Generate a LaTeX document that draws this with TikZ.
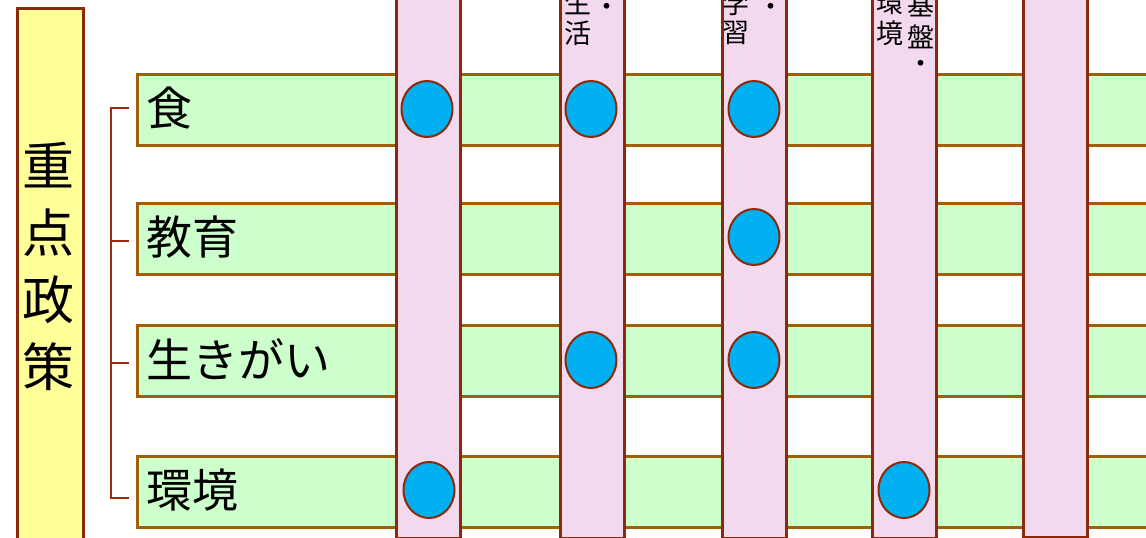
\documentclass[tikz,border=0pt]{standalone}
\usepackage{fontspec}
\setmainfont{Noto Sans CJK JP}
\usetikzlibrary{shapes.geometric}
\definecolor{barfill}{HTML}{CCFFCC}
\definecolor{barline}{HTML}{A0600A}
\definecolor{colfill}{HTML}{F2D9EE}
\definecolor{colline}{HTML}{8B2A0A}
\definecolor{polfill}{HTML}{FFFF99}
\definecolor{dotfill}{HTML}{00B0F0}
\definecolor{brk}{HTML}{A02A10}
\tikzset{
  polbox/.style={draw=colline,fill=polfill,line width=2.5pt,inner sep=0pt,anchor=north west,minimum width=66pt,minimum height=560pt},
  barbox/.style={draw=barline,fill=barfill,line width=3pt,inner sep=0pt,anchor=north west,minimum width=1040pt,minimum height=71pt},
  colbox/.style={draw=colline,fill=colfill,line width=2.5pt,inner sep=0pt,anchor=north west,minimum width=64pt,minimum height=567pt},
  dot/.style={ellipse,draw=colline,fill=dotfill,line width=2pt,inner sep=0pt,minimum width=51pt,minimum height=56pt},
  rowlabel/.style={inner sep=0pt,anchor=west,font=\fontsize{46}{46}\selectfont},
  coltext/.style={inner sep=0pt,font=\fontsize{27}{27}\selectfont},
  brkline/.style={draw=brk,line width=2pt}
}
\begin{document}
\begin{tikzpicture}[x=1pt,y=-1pt]
\useasboundingbox (0,0) rectangle (1146,538);
\clip (0,0) rectangle (1146,538);
\fill[white] (0,0) rectangle (1146,538);
% policy box
\node[polbox] (policy) at (16,7) {};
\node[inner sep=0pt,align=center,font=\fontsize{52}{67}\selectfont] (poltext) at (49,266) {重\\点\\政\\策};
% bracket
\coordinate (t1) at (129,108);
\coordinate (t2) at (129,241);
\coordinate (t3) at (129,363);
\coordinate (t4) at (129,498);
\coordinate (c1) at (111,108);
\coordinate (c2) at (111,241);
\coordinate (c3) at (111,363);
\coordinate (c4) at (111,498);
\draw[brkline] (t1) -- (c1) -- (c4) -- (t4);
\draw[brkline] (t2) -- (c2);
\draw[brkline] (t3) -- (c3);
% rows
\node[barbox] (r1) at (136,73) {};
\node[barbox] (r2) at (136,202) {};
\node[barbox] (r3) at (136,324) {};
\node[barbox] (r4) at (136,455) {};
\node[rowlabel] (l1) at (146,108) {食};
\node[rowlabel] (l2) at (146,237) {教育};
\node[rowlabel] (l3) at (146,359) {生きがい};
\node[rowlabel] (l4) at (146,490) {環境};
% columns
\node[colbox] (k1) at (395,-30) {};
\node[colbox] (k2) at (559,-30) {};
\node[colbox] (k3) at (721,-30) {};
\node[colbox] (k4) at (871,-30) {};
\node[colbox] (k5) at (1022,-31) {};
% column texts
\node[coltext] (a1) at (578,3) {生};
\node[coltext] (a2) at (578,33) {活};
\node[coltext] (a3) at (607,10) {・};
\node[coltext] (b1) at (736,3) {学};
\node[coltext] (b2) at (736,33) {習};
\node[coltext] (b3) at (771,10) {・};
\node[coltext] (e1) at (890,3) {環};
\node[coltext] (e2) at (890,33) {境};
\node[coltext] (f1) at (921,5) {基};
\node[coltext] (f2) at (921,37) {盤};
\node[coltext] (f3) at (921,67) {・};
% dots
\node[dot] (d11) at (427,109) {};
\node[dot] (d12) at (591,109) {};
\node[dot] (d13) at (754,109) {};
\node[dot] (d23) at (754,237) {};
\node[dot] (d32) at (591,360) {};
\node[dot] (d33) at (754,360) {};
\node[dot] (d41) at (429,490) {};
\node[dot] (d44) at (904,490) {};
\end{tikzpicture}
\end{document}
